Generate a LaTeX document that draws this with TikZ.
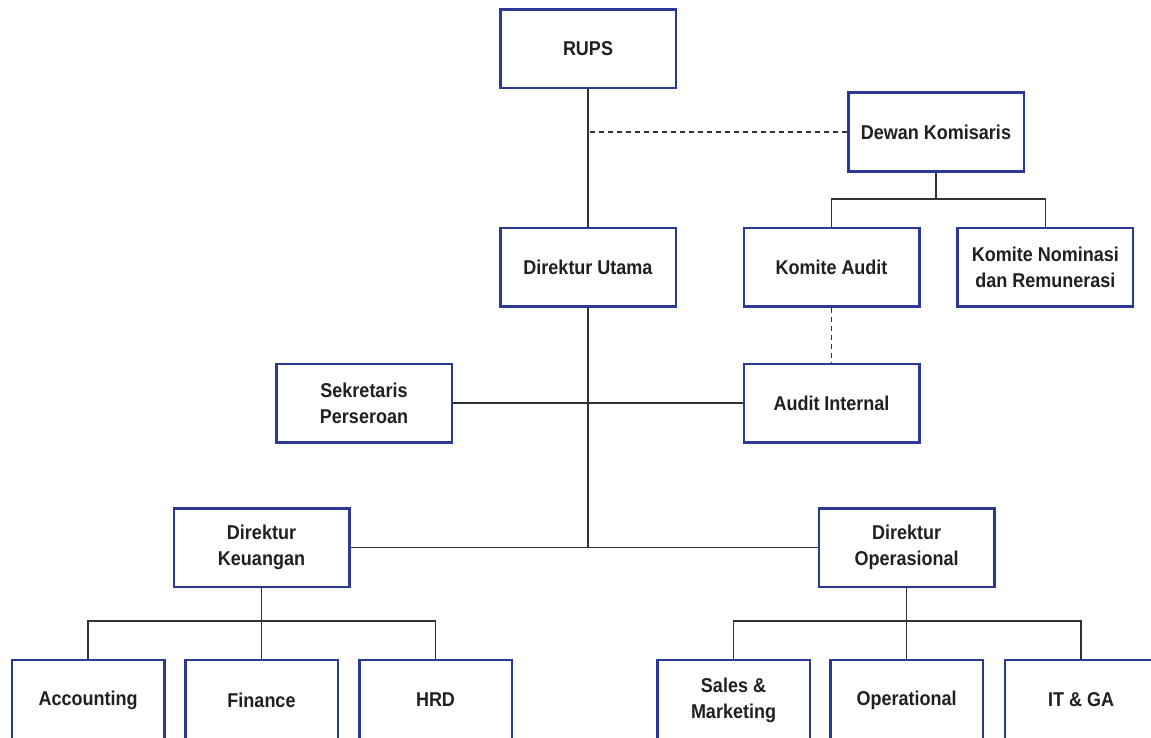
\documentclass[tikz,border=0pt]{standalone}
\usepackage{fontspec}
\setmainfont{Liberation Sans}[FakeStretch=0.9]
\usepackage{xcolor}
\usepackage{tikz}

\definecolor{boxblue}{RGB}{44,56,150}
\definecolor{linegray}{RGB}{50,50,50}
\definecolor{textdark}{RGB}{35,31,32}

\tikzset{
    unit/.style={draw=boxblue, line width=1.25pt, fill=white, text=textdark,
        font=\fontsize{10}{13}\selectfont\bfseries, align=center,
        minimum width=87.75pt, minimum height=39.25pt, inner sep=0pt},
    subunit/.style={unit, minimum width=76.25pt, minimum height=40pt},
    link/.style={draw=linegray, line width=0.65pt},
    dotlink/.style={link, dash pattern=on 2.5pt off 2pt}
}

\begin{document}
\begin{tikzpicture}[x=0.5pt, y=-0.5pt]

    % Page frame
    \clip (0,0) rectangle (1151,738);

    % Parameters
    \def\colA{588}   % main line
    \def\colB{831.5} % Komite Audit / Audit Internal
    \def\colK{261.5} % Keuangan
    \def\colO{906.7} % Operasional
    \def\rowSub{700} % bottom row

    % Top level
    \node[unit] (rups) at (\colA,49) {RUPS};
    \node[unit] (dewan) at (936,132) {Dewan Komisaris};

    % Komite
    \node[unit] (komaudit) at (\colB,267) {Komite Audit};
    \node[unit] (komnom) at (1045.3,267) {Komite Nominasi\\dan Remunerasi};

    % Direksi
    \node[unit] (dirut) at (\colA,267) {Direktur Utama};
    \node[unit] (sekper) at (364,403) {Sekretaris\\Perseroan};
    \node[unit] (audint) at (\colB,403) {Audit Internal};
    \node[unit] (dirkeu) at (\colK,547.7) {Direktur\\Keuangan};
    \node[unit] (dirops) at (\colO,547.7) {Direktur\\Operasional};

    % Bottom row, left
    \node[subunit] (acc) at (88,\rowSub) {Accounting};
    \node[subunit] (fin) at (\colK,\rowSub) {Finance};
    \node[subunit] (hrd) at (435.5,\rowSub) {HRD};

    % Bottom row, right
    \node[subunit] (sales) at (733.5,\rowSub) {Sales \&\\Marketing};
    \node[subunit] (oprl) at (\colO,\rowSub) {Operational};
    \node[subunit] (itga) at (1081,\rowSub) {IT \& GA};

    % Junction points
    \coordinate (dewanbar) at (936,199);
    \coordinate (hub) at (dirut.south |- dirkeu.east);
    \coordinate (keubar) at (\colK,621);
    \coordinate (opsbar) at (\colO,621);

    % RUPS to Direktur Utama
    \draw[link] (rups.south) -- (dirut.north);
    \draw[dotlink] (dewan.west) -- (dewan.west -| rups.south);

    % Dewan Komisaris to Komite
    \draw[link] (dewan.south) -- (dewanbar);
    \draw[link] (komaudit.north) |- (dewanbar) -| (komnom.north);
    \draw[dotlink] (komaudit.south) -- (audint.north);

    % Direktur Utama downwards
    \draw[link] (dirut.south) -- (hub);
    \draw[link] (sekper.east) -- (audint.west);
    \draw[link] (dirkeu.east) -- (dirops.west);

    % Keuangan branch
    \draw[link] (dirkeu.south) -- (keubar);
    \draw[link] (acc.north) |- (keubar) -| (hrd.north);
    \draw[link] (fin.north) -- (keubar);

    % Operasional branch
    \draw[link] (dirops.south) -- (opsbar);
    \draw[link] (sales.north) |- (opsbar) -| (itga.north);
    \draw[link] (oprl.north) -- (opsbar);

\end{tikzpicture}
\end{document}
